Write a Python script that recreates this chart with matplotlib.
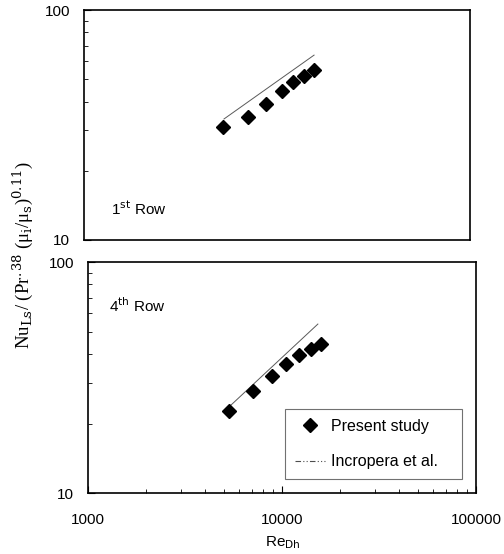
import matplotlib
matplotlib.use("Agg")
import matplotlib.pyplot as plt
from matplotlib.ticker import LogLocator, NullFormatter, FixedLocator, FixedFormatter
from matplotlib.lines import Line2D

# Data
re_row1 = [5250, 7080, 8770, 10600, 12100, 13800, 15550]
nu_row1 = [31.0, 34.3, 39.0, 44.4, 48.6, 51.6, 54.8]
re_line1 = [5310, 15550]
nu_line1 = [33.6, 63.7]

re_row4 = [5330, 7090, 8880, 10490, 12230, 14100, 15890]
nu_row4 = [22.6, 27.6, 32.1, 36.2, 39.6, 42.0, 44.2]
re_line4 = [5330, 15300]
nu_line4 = [23.6, 53.9]

xticks = [1000, 10000, 100000]
xticklabels = ["1000", "10000", "100000"]
yticks = [10, 100]
yticklabels = ["10", "100"]

plt.rcParams['font.family'] = ['Liberation Sans', 'DejaVu Sans']

fig = plt.figure(figsize=(5.04, 5.54), dpi=100)
ax1 = fig.add_axes([0.1667, 0.5668, 0.766, 0.415])
ax2 = fig.add_axes([0.1746, 0.110, 0.770, 0.417])

for ax in (ax1, ax2):
    ax.set_xscale('log')
    ax.set_yscale('log')
    ax.set_xlim(1000, 100000)
    ax.set_ylim(10, 100)
    ax.yaxis.set_major_locator(FixedLocator(yticks))
    ax.yaxis.set_major_formatter(FixedFormatter(yticklabels))
    ax.yaxis.set_minor_locator(LogLocator(base=10, subs=range(2, 10)))
    ax.yaxis.set_minor_formatter(NullFormatter())
    ax.xaxis.set_major_locator(FixedLocator(xticks))
    ax.xaxis.set_major_formatter(FixedFormatter(xticklabels))
    ax.xaxis.set_minor_locator(LogLocator(base=10, subs=range(2, 10)))
    ax.xaxis.set_minor_formatter(NullFormatter())
    ax.tick_params(which='both', direction='in', top=False, right=False, labelsize=11)
    ax.tick_params(which='major', length=5, width=0.8)
    ax.tick_params(which='minor', length=3, width=0.6)
    ax.tick_params(axis='y', which='major', pad=10)
    ax.tick_params(axis='x', which='major', pad=14)
    for s in ax.spines.values():
        s.set_linewidth(1.2)

ax1.tick_params(axis='x', which='both', bottom=False, labelbottom=False)

ax1.plot(re_line1, nu_line1, color='0.35', lw=0.7, ls='-')
ax1.plot(re_row1, nu_row1, 'D', color='black', markersize=7, ls='none')
ax1.text(0.07, 0.135, "1$^{\\mathrm{st}}$ Row", transform=ax1.transAxes, fontsize=11, ha='left', va='center')

l1, = ax2.plot(re_line4, nu_line4, color='0.35', lw=0.7, ls='-', label='Incropera et al.')
p1, = ax2.plot(re_row4, nu_row4, 'D', color='black', markersize=7, ls='none', label='Present study')
ax2.text(0.055, 0.81, "4$^{\\mathrm{th}}$ Row", transform=ax2.transAxes, fontsize=11, ha='left', va='center')

leg_line = Line2D([], [], color='0.3', lw=0.8, ls=(0, (5, 2, 1, 2, 1, 2)))
leg = ax2.legend([p1, leg_line], ['Present study', 'Incropera et al.'],
                 loc='lower left', bbox_to_anchor=(0.508, 0.061, 0.456, 0.32),
                 mode='expand', borderaxespad=0, fontsize=11.5, frameon=True, fancybox=False,
                 borderpad=0.6, labelspacing=1.3, handlelength=1.9, handletextpad=0.35)
leg.get_frame().set_edgecolor('0.3')
leg.get_frame().set_linewidth(0.8)

fig.text(283 / 504, 1 - 543 / 554, "Re$_{\\mathrm{Dh}}$", fontsize=11, ha='center', va='center')

fig.text(0.045, 0.54, "Nu$_{\\mathrm{Ls}}$/ (Pr$^{.38}$ (μ$_{\\mathrm{i}}$/μ$_{\\mathrm{s}}$)$^{0.11}$)",
         rotation=90, ha='center', va='center', fontsize=13.5,
         family=['Liberation Serif', 'DejaVu Serif'], math_fontfamily='dejavuserif')

fig.savefig("out.png", dpi=100)
